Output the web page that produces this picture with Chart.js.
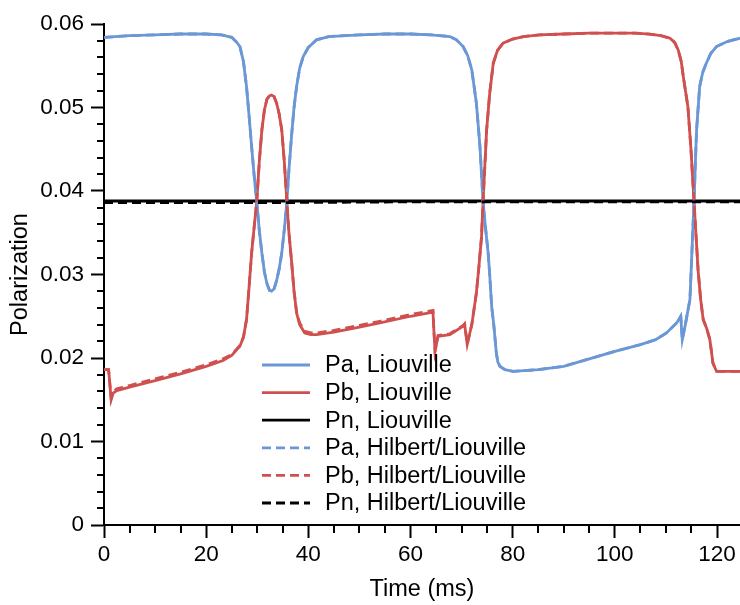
<!DOCTYPE html>
<html>
<head>
<meta charset="utf-8">
<script src="https://cdn.jsdelivr.net/npm/chart.js@4.4.1/dist/chart.umd.min.js"></script>
<style>
  html, body { margin: 0; padding: 0; background: #fff; overflow: hidden; }
  canvas { display: block; }
</style>
</head>
<body>
<canvas id="polChart" width="740" height="605"></canvas>
<script>
// Pa (blue) - time (ms) and polarization
var paTime = [0, 5, 10, 15, 20, 23, 25, 26, 26.6, 27.3, 27.9, 28.4, 28.9, 29.4, 29.9, 30.4, 30.9, 31.4, 31.9, 32.4, 32.8,
  33.3, 33.8, 34.3, 34.8, 35.3, 35.8, 36.2, 36.7, 37.2, 37.7, 38.3, 39.0, 40.0, 41.6, 44, 50, 55, 60, 64, 67.7, 69, 70.3,
  71.2, 72.0, 72.9, 73.6, 74.2, 74.7, 75.2, 75.5, 75.9, 76.3, 76.8, 77.1, 77.5, 78.5, 80.1, 85, 90, 95, 100, 105, 108,
  110.1, 112.1, 112.9, 113.2, 113.8, 114.7, 115.5, 115.8, 116.0, 116.6, 117.2, 117.9, 118.8, 119.9, 122, 124.5];
var paLiouville = [0.0584, 0.0586, 0.0587, 0.0588, 0.0588, 0.0587, 0.0584, 0.0578, 0.0573, 0.0555, 0.0525, 0.0490, 0.0453,
  0.0418, 0.0387, 0.0353, 0.0326, 0.0303, 0.0289, 0.0281, 0.0280, 0.0283, 0.0293, 0.0307, 0.0326, 0.0354, 0.0387, 0.0425,
  0.0465, 0.0500, 0.0525, 0.0547, 0.0561, 0.0572, 0.0581, 0.0585, 0.0587, 0.0588, 0.0588, 0.0587, 0.0585, 0.0581, 0.0573,
  0.0562, 0.0545, 0.0505, 0.0453, 0.0387, 0.0355, 0.0326, 0.0300, 0.0261, 0.0240, 0.0206, 0.0195, 0.0190, 0.0186, 0.0184,
  0.0186, 0.0190, 0.0199, 0.0208, 0.0216, 0.0222, 0.0230, 0.0242, 0.0250, 0.0222, 0.0240, 0.0270, 0.0387, 0.0440, 0.0473,
  0.0525, 0.0542, 0.0553, 0.0565, 0.0573, 0.0579, 0.0583];
var paHilbert = paLiouville.slice();

// Pb (red)
var pbTime = [0, 0.9, 1.2, 1.4, 1.8, 2.5, 5, 10, 15, 20, 23.3, 25, 26, 26.6, 27.3, 27.9, 28.4, 28.9, 29.4, 29.9, 30.4, 30.9,
  31.4, 31.9, 32.4, 32.8, 33.3, 33.8, 34.3, 34.8, 35.3, 35.8, 36.2, 36.7, 37.2, 37.7, 38.3, 39.3, 40.5, 41.6, 45, 50, 54,
  60, 64.4, 64.6, 64.8, 65.4, 67.7, 70.3, 70.6, 71.1, 72.0, 72.9, 73.4, 73.9, 74.2, 74.9, 75.5, 76.2, 77.0, 78.1, 80, 82.1,
  85.3, 90, 95, 100, 104, 106.8, 109, 110.8, 111.7, 112.4, 113.0, 113.4, 114.3, 114.9, 115.5, 116.3, 116.8, 117.3, 118.0,
  118.6, 119.2, 119.9, 122, 124.5];
var pbLiouville = [0.0186, 0.0186, 0.0165, 0.0150, 0.0158, 0.0161, 0.0165, 0.0173, 0.0181, 0.0190, 0.0197, 0.0203, 0.0210,
  0.0214, 0.0225, 0.0246, 0.0285, 0.0326, 0.0357, 0.0387, 0.0435, 0.0473, 0.0497, 0.0510, 0.0514, 0.0515, 0.0513, 0.0505,
  0.0492, 0.0473, 0.0435, 0.0387, 0.0350, 0.0317, 0.0280, 0.0254, 0.0240, 0.0230, 0.0228, 0.0228, 0.0231, 0.0237, 0.0242,
  0.0250, 0.0255, 0.0230, 0.0208, 0.0226, 0.0228, 0.0238, 0.0240, 0.0216, 0.0240, 0.0278, 0.0310, 0.0345, 0.0387, 0.0473,
  0.0517, 0.0553, 0.0568, 0.0577, 0.0582, 0.0585, 0.0587, 0.0588, 0.0589, 0.0589, 0.0589, 0.0588, 0.0586, 0.0583, 0.0578,
  0.0569, 0.0555, 0.0537, 0.0501, 0.0450, 0.0387, 0.0305, 0.0270, 0.0246, 0.0235, 0.0222, 0.0194, 0.0184, 0.0184, 0.0184];
var pbHilbert = [0.0186, 0.0186, 0.0165, 0.0152, 0.0160, 0.0163, 0.0167, 0.0175, 0.0183, 0.0192, 0.0199, 0.0204, 0.0211,
  0.0215, 0.0225, 0.0246, 0.0285, 0.0326, 0.0357, 0.0387, 0.0435, 0.0473, 0.0497, 0.0510, 0.0514, 0.0515, 0.0513, 0.0505,
  0.0492, 0.0473, 0.0435, 0.0387, 0.0350, 0.0317, 0.0280, 0.0255, 0.0242, 0.0232, 0.0230, 0.0230, 0.0233, 0.0239, 0.0244,
  0.0252, 0.0257, 0.0231, 0.0209, 0.0227, 0.0229, 0.0239, 0.0241, 0.0217, 0.0240, 0.0278, 0.0310, 0.0345, 0.0387, 0.0473,
  0.0517, 0.0553, 0.0568, 0.0577, 0.0582, 0.0585, 0.0587, 0.0588, 0.0589, 0.0589, 0.0589, 0.0588, 0.0586, 0.0583, 0.0578,
  0.0569, 0.0555, 0.0537, 0.0501, 0.0450, 0.0387, 0.0305, 0.0270, 0.0246, 0.0235, 0.0222, 0.0194, 0.0184, 0.0184, 0.0184];

// Pn (black)
var pnTime = [0, 30, 60, 90, 124.5];
var pnLiouville = [0.0388, 0.0388, 0.0388, 0.0388, 0.0388];
var pnHilbert = [0.0386, 0.0386, 0.0387, 0.0387, 0.0387];

// axis ticks
var yMajorStep = 0.01, yMinorStep = 0.002;
var xMajorStep = 20, xMinorStep = 5;

var blue = '#6b97d6';
var red = '#d0504f';
var black = '#000000';
var fontFamily = '"Liberation Sans", Arial, sans-serif';

function toPoints(xs, ys) {
  return xs.map(function (t, i) { return { x: t, y: ys[i] }; });
}
function isMajor(v, step) {
  var r = v / step;
  return Math.abs(r - Math.round(r)) < 1e-6;
}

function makeSet(label, xs, ys, color, dashed, order) {
  return {
    label: label,
    data: toPoints(xs, ys),
    borderColor: color,
    borderWidth: 2.8,
    borderDash: dashed ? [9, 5] : [],
    pointRadius: 0,
    fill: false,
    tension: 0,
    order: order
  };
}

// minor ticks + legend inside plot area
var extrasPlugin = {
  id: 'extras',
  afterDraw: function (chart) {
    var ctx = chart.ctx, area = chart.chartArea;
    var xs = chart.scales.x, ys = chart.scales.y;
    ctx.save();
    ctx.strokeStyle = black;
    ctx.lineWidth = 2;
    ys.ticks.forEach(function (tk) {
      if (isMajor(tk.value, yMajorStep)) return;
      var py = Math.round(ys.getPixelForValue(tk.value));
      ctx.beginPath();
      ctx.moveTo(area.left - 7, py);
      ctx.lineTo(area.left, py);
      ctx.stroke();
    });
    xs.ticks.forEach(function (tk) {
      if (isMajor(tk.value, xMajorStep)) return;
      var px = Math.round(xs.getPixelForValue(tk.value));
      ctx.beginPath();
      ctx.moveTo(px, area.bottom);
      ctx.lineTo(px, area.bottom + 8);
      ctx.stroke();
    });

    // legend
    var lx = area.left + 158, ly = 365, rowH = 27.6;
    ctx.font = '23.5px ' + fontFamily;
    ctx.textBaseline = 'middle';
    ctx.fillStyle = black;
    chart.data.datasets.forEach(function (ds, i) {
      var yy = ly + i * rowH;
      ctx.strokeStyle = ds.borderColor;
      ctx.lineWidth = 2.8;
      ctx.setLineDash(ds.borderDash);
      ctx.beginPath();
      ctx.moveTo(lx, yy);
      ctx.lineTo(lx + 48, yy);
      ctx.stroke();
      ctx.setLineDash([]);
      ctx.fillText(ds.label, lx + 63, yy + 1);
    });
    ctx.restore();
  }
};

var ctx = document.getElementById('polChart').getContext('2d');
var polChart = new Chart(ctx, {
  type: 'line',
  data: {
    datasets: [
      makeSet('Pa, Liouville', paTime, paLiouville, blue, false, 6),
      makeSet('Pb, Liouville', pbTime, pbLiouville, red, false, 5),
      makeSet('Pn, Liouville', pnTime, pnLiouville, black, false, 4),
      makeSet('Pa, Hilbert/Liouville', paTime, paHilbert, blue, true, 3),
      makeSet('Pb, Hilbert/Liouville', pbTime, pbHilbert, red, true, 2),
      makeSet('Pn, Hilbert/Liouville', pnTime, pnHilbert, black, true, 1)
    ]
  },
  options: {
    responsive: false,
    animation: false,
    devicePixelRatio: 1,
    layout: { padding: { top: 24, right: 0, left: 0, bottom: 0 } },
    plugins: {
      legend: { display: false },
      tooltip: { enabled: false }
    },
    scales: {
      x: {
        type: 'linear',
        min: 0,
        max: 124.5,
        afterFit: function (scale) { scale.height = 80; },
        border: { display: true, color: black, width: 2 },
        grid: {
          drawOnChartArea: false,
          drawTicks: true,
          tickLength: 13,
          tickWidth: 2,
          tickColor: function (c) { return c.tick && isMajor(c.tick.value, xMajorStep) ? black : 'rgba(0,0,0,0)'; }
        },
        ticks: {
          stepSize: xMinorStep,
          autoSkip: false,
          includeBounds: false,
          maxRotation: 0,
          padding: 3,
          color: black,
          font: { family: fontFamily, size: 22.5 },
          callback: function (v) { return isMajor(v, xMajorStep) ? String(Math.round(v)) : ''; }
        },
        title: {
          display: true,
          text: 'Time (ms)',
          color: black,
          font: { family: fontFamily, size: 23.5 },
          padding: { top: 0, bottom: 1 }
        }
      },
      y: {
        type: 'linear',
        min: 0,
        max: 0.06,
        afterFit: function (scale) { scale.width = 104; },
        border: { display: true, color: black, width: 2 },
        grid: {
          drawOnChartArea: false,
          drawTicks: true,
          tickLength: 13,
          tickWidth: 2,
          tickColor: function (c) { return c.tick && isMajor(c.tick.value, yMajorStep) ? black : 'rgba(0,0,0,0)'; }
        },
        ticks: {
          stepSize: yMinorStep,
          autoSkip: false,
          padding: 7,
          color: black,
          font: { family: fontFamily, size: 22.5 },
          callback: function (v) { return isMajor(v, yMajorStep) ? String(Math.round(v * 100) / 100) : ''; }
        },
        title: {
          display: true,
          text: 'Polarization',
          color: black,
          font: { family: fontFamily, size: 23.5 },
          padding: { top: 6, bottom: 0 }
        }
      }
    }
  },
  plugins: [extrasPlugin]
});
</script>
</body>
</html>
